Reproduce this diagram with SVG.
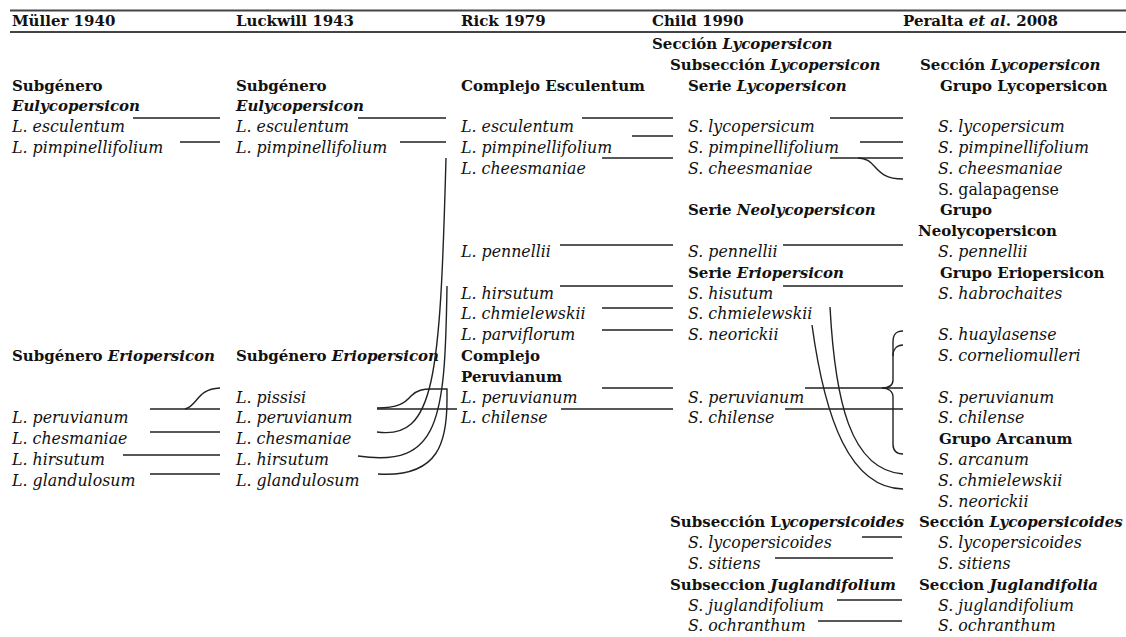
<svg xmlns="http://www.w3.org/2000/svg" width="1126" height="637" viewBox="0 0 1126 637">
<style>
text{font-family:"DejaVu Serif","Liberation Serif",serif;font-size:15px;fill:#111}
.b{font-weight:bold}
.i{font-style:italic}
.s{font-style:italic;font-size:15.8px}
.rule{stroke:#444;stroke-width:2;fill:none}
.ln{stroke:#222;stroke-width:1.4;fill:none}
</style>
<rect width="1126" height="637" fill="#fff"/>
<g id="header">
<line class="rule" x1="10" y1="10.5" x2="1126" y2="10.5"/>
<line class="rule" x1="10" y1="32" x2="1126" y2="32"/>
<text class="b" x="12" y="26">Müller 1940</text>
<text class="b" x="236" y="26">Luckwill 1943</text>
<text class="b" x="461" y="26">Rick 1979</text>
<text class="b" x="652" y="26">Child 1990</text>
<text class="b" x="903" y="26">Peralta <tspan class="i">et al</tspan>. 2008</text>
</g>
<g id="muller">
<g id="m-subgen1"><text class="b" x="12" y="91">Subgénero</text><text class="b i" x="12" y="111">Eulycopersicon</text></g>
<g id="m-esc"><text class="s" x="12" y="132">L. esculentum</text></g>
<g id="m-pimp"><text class="s" x="12" y="153">L. pimpinellifolium</text></g>
<g id="m-subgen2"><text class="b" x="12" y="361">Subgénero <tspan class="i">Eriopersicon</tspan></text></g>
<g id="m-peru"><text class="s" x="12" y="423">L. peruvianum</text></g>
<g id="m-ches"><text class="s" x="12" y="444">L. chesmaniae</text></g>
<g id="m-hirs"><text class="s" x="12" y="465">L. hirsutum</text></g>
<g id="m-glan"><text class="s" x="12" y="486">L. glandulosum</text></g>
</g>
<g id="luckwill">
<g id="l-subgen1"><text class="b" x="236" y="91">Subgénero</text><text class="b i" x="236" y="111">Eulycopersicon</text></g>
<g id="l-esc"><text class="s" x="236" y="132">L. esculentum</text></g>
<g id="l-pimp"><text class="s" x="236" y="153">L. pimpinellifolium</text></g>
<g id="l-subgen2"><text class="b" x="236" y="361">Subgénero <tspan class="i">Eriopersicon</tspan></text></g>
<g id="l-piss"><text class="s" x="236" y="403">L. pissisi</text></g>
<g id="l-peru"><text class="s" x="236" y="423">L. peruvianum</text></g>
<g id="l-ches"><text class="s" x="236" y="444">L. chesmaniae</text></g>
<g id="l-hirs"><text class="s" x="236" y="465">L. hirsutum</text></g>
<g id="l-glan"><text class="s" x="236" y="486">L. glandulosum</text></g>
</g>
<g id="rick">
<g id="r-compl1"><text class="b" x="461" y="91">Complejo Esculentum</text></g>
<g id="r-esc"><text class="s" x="461" y="132">L. esculentum</text></g>
<g id="r-pimp"><text class="s" x="461" y="153">L. pimpinellifolium</text></g>
<g id="r-chee"><text class="s" x="461" y="174">L. cheesmaniae</text></g>
<g id="r-penn"><text class="s" x="461" y="257">L. pennellii</text></g>
<g id="r-hirs"><text class="s" x="461" y="299">L. hirsutum</text></g>
<g id="r-chmi"><text class="s" x="461" y="319">L. chmielewskii</text></g>
<g id="r-parv"><text class="s" x="461" y="340">L. parviflorum</text></g>
<g id="r-compl2"><text class="b" x="461" y="361">Complejo</text><text class="b" x="461" y="382">Peruvianum</text></g>
<g id="r-peru"><text class="s" x="461" y="403">L. peruvianum</text></g>
<g id="r-chil"><text class="s" x="461" y="423">L. chilense</text></g>
</g>
<g id="child">
<g id="c-sec"><text class="b" x="652" y="49">Sección <tspan class="i">Lycopersicon</tspan></text></g>
<g id="c-subsec"><text class="b" x="670" y="70">Subsección <tspan class="i">Lycopersicon</tspan></text></g>
<g id="c-serie1"><text class="b" x="688" y="91">Serie <tspan class="i">Lycopersicon</tspan></text></g>
<g id="c-lyco"><text class="s" x="688" y="132">S. lycopersicum</text></g>
<g id="c-pimp"><text class="s" x="688" y="153">S. pimpinellifolium</text></g>
<g id="c-chee"><text class="s" x="688" y="174">S. cheesmaniae</text></g>
<g id="c-serie2"><text class="b" x="688" y="215">Serie <tspan class="i">Neolycopersicon</tspan></text></g>
<g id="c-penn"><text class="s" x="688" y="257">S. pennellii</text></g>
<g id="c-serie3"><text class="b" x="688" y="278">Serie <tspan class="i">Eriopersicon</tspan></text></g>
<g id="c-hisu"><text class="s" x="688" y="299">S. hisutum</text></g>
<g id="c-chmi"><text class="s" x="688" y="319">S. chmielewskii</text></g>
<g id="c-neor"><text class="s" x="688" y="340">S. neorickii</text></g>
<g id="c-peru"><text class="s" x="688" y="403">S. peruvianum</text></g>
<g id="c-chil"><text class="s" x="688" y="423">S. chilense</text></g>
<g id="c-subsec2"><text class="b" x="670" y="527">Subsección L<tspan class="i">ycopersicoides</tspan></text></g>
<g id="c-lycoides"><text class="s" x="688" y="548">S. lycopersicoides</text></g>
<g id="c-siti"><text class="s" x="688" y="569">S. sitiens</text></g>
<g id="c-subsec3"><text class="b" x="670" y="590">Subseccion <tspan class="i">Juglandifolium</tspan></text></g>
<g id="c-jugl"><text class="s" x="688" y="611">S. juglandifolium</text></g>
<g id="c-ochr"><text class="s" x="688" y="631">S. ochranthum</text></g>
</g>
<g id="peralta">
<g id="p-sec"><text class="b" x="920" y="70">Sección <tspan class="i">Lycopersicon</tspan></text></g>
<g id="p-grupo1"><text class="b" x="940" y="91">Grupo Lycopersicon</text></g>
<g id="p-lyco"><text class="s" x="938" y="132">S. lycopersicum</text></g>
<g id="p-pimp"><text class="s" x="938" y="153">S. pimpinellifolium</text></g>
<g id="p-chee"><text class="s" x="938" y="174">S. cheesmaniae</text></g>
<g id="p-gala"><text x="938" y="195" style="font-size:15.8px">S. galapagense</text></g>
<g id="p-grupo2"><text class="b" x="940" y="215">Grupo</text><text class="b" x="918" y="236">Neolycopersicon</text></g>
<g id="p-penn"><text class="s" x="938" y="257">S. pennellii</text></g>
<g id="p-grupo3"><text class="b" x="940" y="278">Grupo Eriopersicon</text></g>
<g id="p-habr"><text class="s" x="938" y="299">S. habrochaites</text></g>
<g id="p-huay"><text class="s" x="938" y="340">S. huaylasense</text></g>
<g id="p-corn"><text class="s" x="938" y="361">S. corneliomulleri</text></g>
<g id="p-peru"><text class="s" x="938" y="403">S. peruvianum</text></g>
<g id="p-chil"><text class="s" x="938" y="423">S. chilense</text></g>
<g id="p-grupo4"><text class="b" x="939" y="444">Grupo Arcanum</text></g>
<g id="p-arca"><text class="s" x="938" y="465">S. arcanum</text></g>
<g id="p-chmi"><text class="s" x="938" y="486">S. chmielewskii</text></g>
<g id="p-neor"><text class="s" x="938" y="507">S. neorickii</text></g>
<g id="p-sec2"><text class="b" x="919" y="527">Sección <tspan class="i">Lycopersicoides</tspan></text></g>
<g id="p-lycoides"><text class="s" x="938" y="548">S. lycopersicoides</text></g>
<g id="p-siti"><text class="s" x="938" y="569">S. sitiens</text></g>
<g id="p-sec3"><text class="b" x="919" y="590">Seccion <tspan class="i">Juglandifolia</tspan></text></g>
<g id="p-jugl"><text class="s" x="938" y="611">S. juglandifolium</text></g>
<g id="p-ochr"><text class="s" x="938" y="631">S. ochranthum</text></g>
</g>
<g id="connectors" class="ln">
<path d="M133 118H220M180 142H220M150 409H220M150 432H220M123 455H220M150 474H220"/>
<path d="M185 409C198 406 196 389 220 388"/>
<path d="M358 118H446M400 142H446M377 409H457"/>
<path d="M377 408C398 408 405 403 411 396C417 390 423 389 432 389L447 389L447 400C447 440 440 478 378 474"/>
<path d="M446 158C440 380 435 440 377 432"/>
<path d="M447 286C445 420 440 468 358 456"/>
<path d="M582 118H673M632 136H673M602 158H673M560 245H673M560 286H673M602 308H673M602 330H673M602 388H673M561 409H673"/>
<path d="M830 118H903M860 142H903M830 158H903M783 245H903M783 286H903M805 388H903M785 409H903"/>
<path d="M858 158C878 158 872 179 903 179"/>
<path d="M830 307C835 400 850 470 903 474"/>
<path d="M812 325C825 420 850 488 903 489"/>
<path d="M903 331C896 331 893 334 893 342L893 380C893 386 888 388 882 388C888 388 893 391 893 397L893 444C893 450 896 454 903 454"/>
<path d="M893 356C893 349 897 345 903 345"/>
<path d="M862 537H902M775 558H893M837 600H902M818 621H902"/>
</g>
</svg>
